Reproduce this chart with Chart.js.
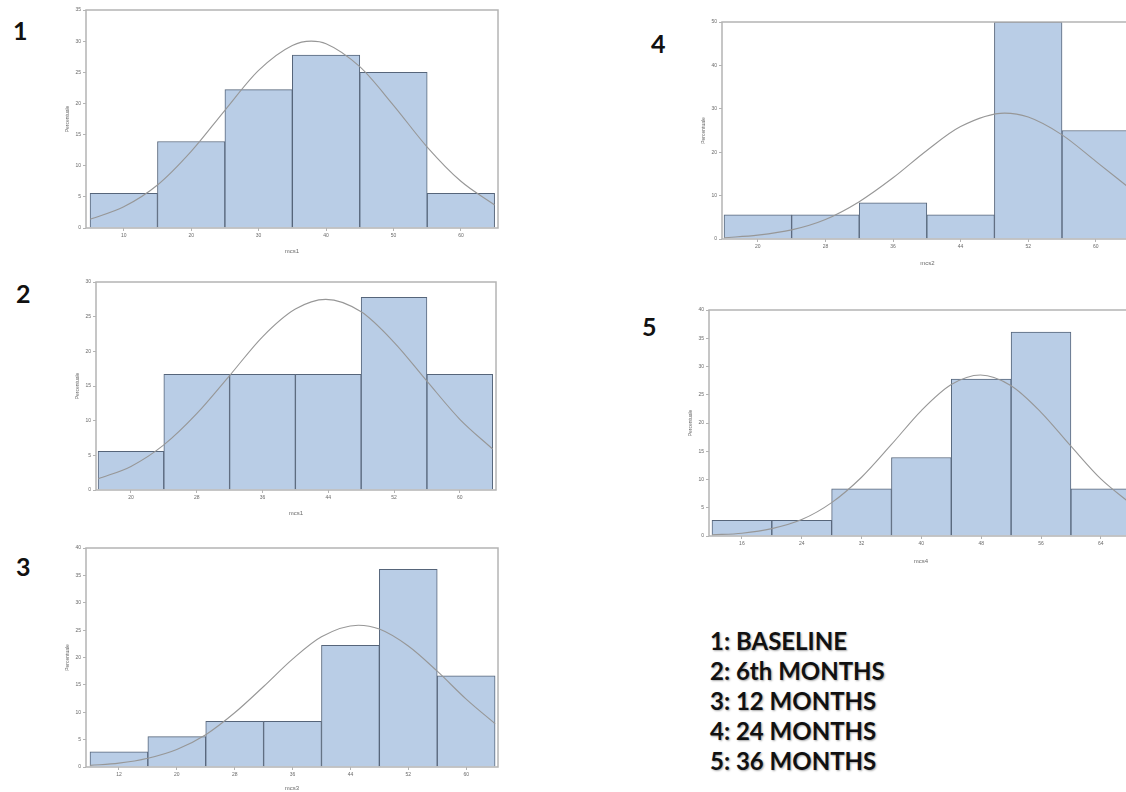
<!DOCTYPE html>
<html>
<head>
<meta charset="utf-8">
<script src="https://cdn.jsdelivr.net/npm/chart.js@4.4.1/dist/chart.umd.min.js"></script>
<style>
  html, body { margin: 0; padding: 0; background: #fff; width: 1126px; height: 792px; overflow: hidden; position: relative; }
  canvas { position: absolute; }
  .num { position: absolute; font-family: Lato, sans-serif; font-weight: bold; font-size: 25px; line-height: 25px; color: #111; }
  #legend { position: absolute; left: 710px; top: 626px; font-family: Lato, sans-serif; font-weight: bold;
            font-size: 24px; line-height: 30px; color: #111; text-shadow: 1px 1px 2px rgba(0,0,0,0.35); white-space: pre; }
</style>
</head>
<body>
<div class="num" style="left:13px;top:18px">1</div>
<div class="num" style="left:16px;top:281px">2</div>
<div class="num" style="left:16px;top:554px">3</div>
<div class="num" style="left:651px;top:31px">4</div>
<div class="num" style="left:642px;top:314px">5</div>
<div id="legend"></div>

<canvas id="h1" width="450" height="255" style="left:56px;top:0px"></canvas>
<canvas id="h2" width="438" height="245" style="left:66px;top:272px"></canvas>
<canvas id="h3" width="450" height="254" style="left:56px;top:538px"></canvas>
<canvas id="h4" width="450" height="255" style="left:692px;top:12px"></canvas>
<canvas id="h5" width="463" height="265" style="left:679px;top:300px"></canvas>

<script>
const LEGEND_LINES = ["1: BASELINE", "2: 6th MONTHS", "3: 12 MONTHS", "4: 24 MONTHS", "5: 36 MONTHS"];

// 1: baseline (mcs1)
const mid1 = [10, 20, 30, 40, 50, 60];
const pct1 = [5.56, 13.89, 22.22, 27.78, 25, 5.56];
const curveX1 = [5, 10, 15, 20, 25, 30, 35, 37.8, 40, 45, 50, 55, 60, 65];
const curveY1 = [1.4, 3.4, 6.9, 12.3, 18.9, 25.3, 29.3, 30, 29.6, 25.9, 19.7, 13.0, 7.5, 3.7];
const yTicks1 = [0, 5, 10, 15, 20, 25, 30, 35];

// 2: 6th months
const mid2 = [20, 28, 36, 44, 52, 60];
const pct2 = [5.56, 16.67, 16.67, 16.67, 27.78, 16.67];
const curveX2 = [16, 20, 24, 28, 32, 36, 40, 43.7, 48, 52, 56, 60, 64];
const curveY2 = [1.6, 3.4, 6.5, 11.0, 16.5, 22.1, 26.1, 27.5, 25.7, 21.3, 15.7, 10.2, 5.9];
const yTicks2 = [0, 5, 10, 15, 20, 25, 30];

// 3: 12 months
const mid3 = [12, 20, 28, 36, 44, 52, 60];
const pct3 = [2.78, 5.56, 8.33, 8.33, 22.22, 36.11, 16.67];
const curveX3 = [8, 12, 16, 20, 24, 28, 32, 36, 40, 45.1, 48, 52, 56, 60, 64];
const curveY3 = [0.3, 0.7, 1.6, 3.2, 5.9, 9.9, 14.7, 19.7, 23.8, 25.9, 25.2, 22.1, 17.5, 12.4, 7.9];
const yTicks3 = [0, 5, 10, 15, 20, 25, 30, 35, 40];

// 4: 24 months
const mid4 = [20, 28, 36, 44, 52, 60];
const pct4 = [5.56, 5.56, 8.33, 5.56, 50, 25];
const curveX4 = [16, 20, 24, 28, 32, 36, 40, 44, 49.2, 52, 56, 60, 64];
const curveY4 = [0.3, 0.9, 2.1, 4.5, 8.6, 14.1, 20.4, 25.9, 29.0, 28.1, 24.0, 17.9, 11.7];
const yTicks4 = [0, 10, 20, 30, 40, 50];

// 5: 36 months
const mid5 = [16, 24, 32, 40, 48, 56, 64];
const pct5 = [2.78, 2.78, 8.33, 13.89, 27.78, 36.11, 8.33];
const curveX5 = [12, 16, 20, 24, 28, 32, 36, 40, 44, 47.9, 52, 56, 60, 64, 68];
const curveY5 = [0.2, 0.5, 1.3, 2.9, 5.9, 10.4, 16.2, 22.2, 26.8, 28.5, 26.6, 21.9, 15.9, 10.1, 5.7];
const yTicks5 = [0, 5, 10, 15, 20, 25, 30, 35, 40];

document.getElementById("legend").textContent = LEGEND_LINES.join("\n");

const BAR_FILL = "#b9cde6";
const BAR_EDGE = "#56657a";
const CURVE = "#979797";
const FRAME = "#b4b4b4";
const TICK_TEXT = "#6a6a6a";

// SAS-style box round the plot area
const framePlugin = {
  id: "frame",
  afterDatasetsDraw(chart) {
    const { ctx, chartArea: a } = chart;
    ctx.save();
    ctx.strokeStyle = FRAME;
    ctx.lineWidth = 1.5;
    ctx.strokeRect(a.left, a.top, a.right - a.left, a.bottom - a.top);
    ctx.restore();
  },
};

function makeHistogram(canvasId, mids, pcts, cx, cy, yTicks, xLabel, xMin, xMax, yAxisW, xAxisH, padRight) {
  const ctx = document.getElementById(canvasId);
  const tickFont = { family: "Liberation Sans", size: 5 };
  return new Chart(ctx, {
    type: "bar",
    data: {
      datasets: [
        {
          type: "line",
          data: cx.map((x, i) => ({ x, y: cy[i] })),
          borderColor: CURVE,
          borderWidth: 1.1,
          pointRadius: 0,
          cubicInterpolationMode: "monotone",
          order: 0,
        },
        {
          type: "bar",
          data: mids.map((x, i) => ({ x, y: pcts[i] })),
          backgroundColor: BAR_FILL,
          borderColor: BAR_EDGE,
          borderWidth: 1,
          barPercentage: 1,
          categoryPercentage: 1,
          order: 1,
        },
      ],
    },
    options: {
      responsive: false,
      animation: false,
      layout: { padding: { top: 10, right: padRight, left: 0, bottom: 0 } },
      plugins: { legend: { display: false }, tooltip: { enabled: false } },
      scales: {
        x: {
          type: "linear",
          min: xMin,
          max: xMax,
          offset: false,
          grid: { display: true, drawOnChartArea: false, offset: false, tickLength: 3, tickColor: FRAME },
          border: { display: false },
          afterBuildTicks: (s) => { s.ticks = mids.map((v) => ({ value: v })); },
          afterFit: (s) => { s.height = xAxisH; },
          ticks: { font: tickFont, color: TICK_TEXT, padding: 2, maxRotation: 0 },
          title: { display: true, text: xLabel, font: { family: "Liberation Sans", size: 6 }, color: TICK_TEXT, padding: 0 },
        },
        y: {
          min: 0,
          max: yTicks[yTicks.length - 1],
          grid: { display: true, drawOnChartArea: false, tickLength: 3, tickColor: FRAME },
          border: { display: false },
          afterBuildTicks: (s) => { s.ticks = yTicks.map((v) => ({ value: v })); },
          afterFit: (s) => { s.width = yAxisW; },
          ticks: { font: tickFont, color: TICK_TEXT, padding: 2 },
          title: { display: true, text: "Percentuale", font: { family: "Liberation Sans", size: 5 }, color: TICK_TEXT, padding: { top: 9, bottom: 0 } },
        },
      },
    },
    plugins: [framePlugin],
  });
}

makeHistogram("h1", mid1, pct1, curveX1, curveY1, yTicks1, "mcs1", 4.4, 65.5, 30, 27, 8);
makeHistogram("h2", mid2, pct2, curveX2, curveY2, yTicks2, "mcs1", 15.75, 64.4, 30, 27, 8);
makeHistogram("h3", mid3, pct3, curveX3, curveY3, yTicks3, "mcs3", 7.45, 64.4, 30, 25, 8);
makeHistogram("h4", mid4, pct4, curveX4, curveY4, yTicks4, "mcs2", 15.76, 64.4, 30, 28, 9);
makeHistogram("h5", mid5, pct5, curveX5, curveY5, yTicks5, "mcs4", 11.6, 68.3, 30, 29, 9);
</script>
</body>
</html>
